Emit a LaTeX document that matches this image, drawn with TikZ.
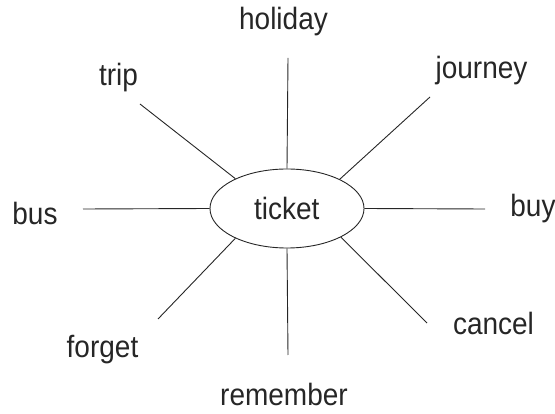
\documentclass[tikz,border=0pt]{standalone}
\usepackage{fontspec}
\setmainfont{Liberation Sans}
\usetikzlibrary{shapes.geometric}
\newcommand{\wordtxt}[1]{\scalebox{1}[1.1]{#1}}
\tikzset{
  word/.style={anchor=base, inner sep=0pt, font=\fontsize{28}{30}\selectfont, text=black!85},
  spoke/.style={draw=black!85, line width=0.9pt},
  hub/.style={ellipse, draw=black!85, line width=0.9pt, minimum width=154pt, minimum height=79pt, inner sep=0pt}
}
\begin{document}
\begin{tikzpicture}[x=1pt,y=-1pt]
\useasboundingbox (0,0) rectangle (555,414);
\node[hub] (ticket) at (287,208.5) {};
\node[word] (tickett) at (286.7,220) {\wordtxt{ticket}};
% outer ends
\coordinate (eHol) at (288,58);
\coordinate (eTrip) at (140,104);
\coordinate (eJour) at (430,97);
\coordinate (eBus) at (83,209);
\coordinate (eBuy) at (485,209);
\coordinate (eForg) at (158,319);
\coordinate (eRem) at (288,355);
\coordinate (eCanc) at (427,323);
% spokes
\draw[spoke] (ticket.north) -- (eHol);
\draw[spoke] (ticket.150) -- (eTrip);
\draw[spoke] (ticket.29) -- (eJour);
\draw[spoke] (ticket.west) -- (eBus);
\draw[spoke] (ticket.east) -- (eBuy);
\draw[spoke] (ticket.210) -- (eForg);
\draw[spoke] (ticket.south) -- (eRem);
\draw[spoke] (ticket.332) -- (eCanc);
% labels
\node[word] (holiday) at (283.5,30) {\wordtxt{holiday}};
\node[word] (trip) at (118.5,86) {\wordtxt{trip}};
\node[word] (journey) at (481.5,79) {\wordtxt{journey}};
\node[word] (bus) at (35,225) {\wordtxt{bus}};
\node[word] (buy) at (533,217) {\wordtxt{buy}};
\node[word] (forget) at (102.5,358) {\wordtxt{forget}};
\node[word] (remember) at (284,406) {\wordtxt{remember}};
\node[word] (cancel) at (493.5,335) {\wordtxt{cancel}};
\end{tikzpicture}
\end{document}
